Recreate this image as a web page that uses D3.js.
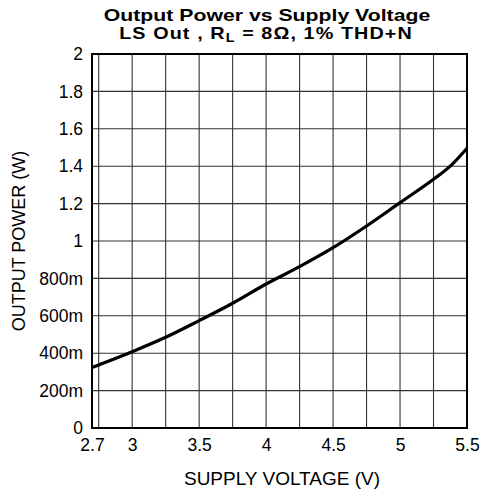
<!DOCTYPE html>
<html>
<head>
<meta charset="utf-8">
<script src="https://cdn.jsdelivr.net/npm/d3@7"></script>
<style>
  html, body { margin: 0; padding: 0; background: #fff; }
  svg { display: block; font-family: "Liberation Sans", Arial, sans-serif; }
</style>
</head>
<body>
<svg id="chart" width="482" height="493"></svg>
<script>
// Supply voltage (V) and output power (W)
const supplyVoltage = [2.7, 2.75, 3.0, 3.25, 3.5, 3.75, 4.0, 4.25, 4.5, 4.75, 5.0, 5.25, 5.375, 5.5];
const outputPower   = [0.323, 0.337, 0.408, 0.485, 0.574, 0.667, 0.77, 0.863, 0.964, 1.08, 1.205, 1.33, 1.40, 1.496];

const xTickValues = [2.7, 3, 3.5, 4, 4.5, 5, 5.5];
const xTickLabels = ["2.7", "3", "3.5", "4", "4.5", "5", "5.5"];
const xGridValues = [2.75, 3, 3.25, 3.5, 3.75, 4, 4.25, 4.5, 4.75, 5, 5.25];
const yTickValues = [0, 0.2, 0.4, 0.6, 0.8, 1.0, 1.2, 1.4, 1.6, 1.8, 2.0];
const yTickLabels = ["0", "200m", "400m", "600m", "800m", "1", "1.2", "1.4", "1.6", "1.8", "2"];

const svg = d3.select("#chart");
const m = { left: 92, right: 467, top: 54, bottom: 428 };

const x = d3.scaleLinear().domain([2.7, 5.5]).range([m.left, m.right]);
const y = d3.scaleLinear().domain([0, 2]).range([m.bottom, m.top]);

// Grid
const grid = svg.append("g").attr("stroke", "#333").attr("stroke-width", 1.1);
grid.selectAll("line.v").data(xGridValues).join("line")
  .attr("x1", d => x(d)).attr("x2", d => x(d))
  .attr("y1", m.top).attr("y2", m.bottom);
grid.selectAll("line.h").data(yTickValues.slice(1, -1)).join("line")
  .attr("x1", m.left).attr("x2", m.right)
  .attr("y1", d => y(d)).attr("y2", d => y(d));

// Frame
svg.append("rect")
  .attr("x", m.left).attr("y", m.top)
  .attr("width", m.right - m.left).attr("height", m.bottom - m.top)
  .attr("fill", "none").attr("stroke", "#000").attr("stroke-width", 2);

// Axes (labels only)
const xAxis = d3.axisBottom(x).tickValues(xTickValues).tickSize(0).tickPadding(11)
  .tickFormat((d, i) => xTickLabels[i]);
const gx = svg.append("g").attr("transform", `translate(0,${m.bottom})`).call(xAxis);
gx.select(".domain").remove();
gx.selectAll("text").attr("font-size", 17.5).attr("fill", "#000")
  .attr("font-family", "Liberation Sans, Arial, sans-serif");

const yAxis = d3.axisLeft(y).tickValues(yTickValues).tickSize(0).tickPadding(9)
  .tickFormat((d, i) => yTickLabels[i]);
const gy = svg.append("g").attr("transform", `translate(${m.left},0)`).call(yAxis);
gy.select(".domain").remove();
gy.selectAll("text").attr("font-size", 17.5).attr("fill", "#000")
  .attr("font-family", "Liberation Sans, Arial, sans-serif");

// Curve
const line = d3.line().x((d, i) => x(supplyVoltage[i])).y(d => y(d)).curve(d3.curveMonotoneX);
svg.append("path").datum(outputPower)
  .attr("d", line).attr("fill", "none")
  .attr("stroke", "#000").attr("stroke-width", 3.2)
  .attr("stroke-linejoin", "round");

// Titles (two bold lines, slightly widened)
svg.append("text").attr("text-anchor", "middle")
  .attr("font-weight", "bold").attr("font-size", 16.5).attr("fill", "#000")
  .attr("transform", "translate(267,20.5) scale(1.2,1)")
  .attr("textLength", 272).attr("lengthAdjust", "spacingAndGlyphs")
  .text("Output Power vs Supply Voltage");
const t2 = svg.append("text").attr("text-anchor", "middle")
  .attr("font-weight", "bold").attr("font-size", 16.5).attr("fill", "#000")
  .attr("letter-spacing", 0.9)
  .attr("transform", "translate(266,39) scale(1.2,1)");
t2.append("tspan").text("LS Out , R");
t2.append("tspan").attr("font-size", 12).attr("dy", 3).text("L");
t2.append("tspan").attr("dy", -3).text(" = 8Ω, 1% THD+N");

svg.append("text").attr("text-anchor", "middle")
  .attr("x", 282).attr("y", 485).attr("font-size", 19)
  .text("SUPPLY VOLTAGE (V)");

svg.append("text").attr("text-anchor", "middle")
  .attr("transform", `translate(25,241) rotate(-90)`)
  .attr("font-size", 18)
  .text("OUTPUT POWER (W)");
</script>
</body>
</html>
